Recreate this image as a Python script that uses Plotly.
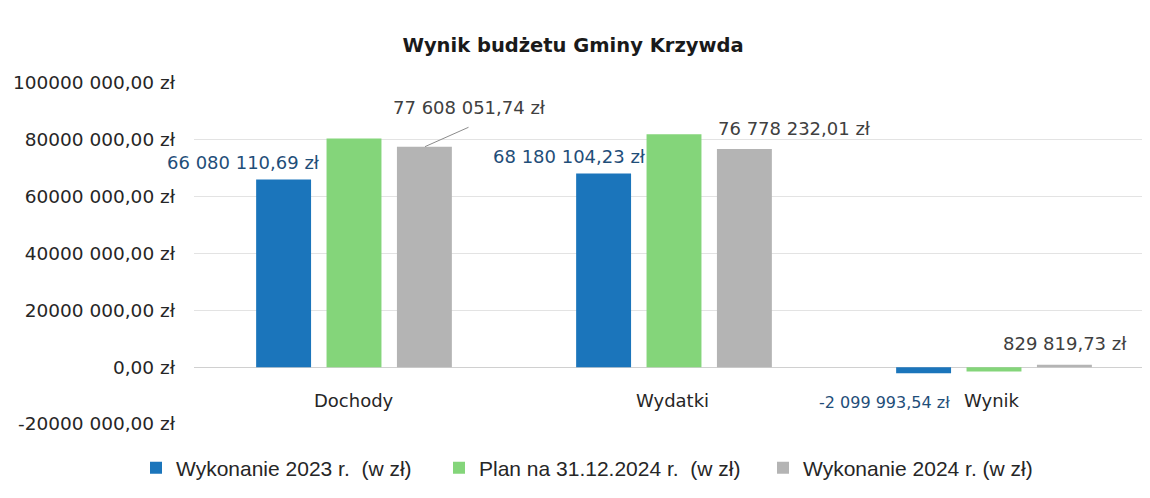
import plotly.graph_objects as go

categories = ["Dochody", "Wydatki", "Wynik"]
series_names = ["Wykonanie 2023 r.  (w zł)", "Plan na 31.12.2024 r.  (w zł)", "Wykonanie 2024 r. (w zł)"]
wyk_2023 = [66080110.69, 68180104.23, -2099993.54]
plan_2024 = [80500000.00, 82000000.00, -1500000.00]
wyk_2024 = [77608051.74, 76778232.01, 829819.73]
labels_2023 = ["66 080 110,69 zł", "68 180 104,23 zł", "-2 099 993,54 zł"]
labels_2024 = ["77 608 051,74 zł", "76 778 232,01 zł", "829 819,73 zł"]
tick_vals = [-20000000, 0, 20000000, 40000000, 60000000, 80000000, 100000000]
tick_text = ["-20000 000,00 zł", "0,00 zł", "20000 000,00 zł", "40000 000,00 zł",
             "60000 000,00 zł", "80000 000,00 zł", "100000 000,00 zł"]

colors = ["#1b75bb", "#84d57a", "#b4b4b4"]
font_main = "DejaVu Sans"
legend_ids = ["legend", "legend2", "legend3"]
legend_x = [128, 431, 755]

fig = go.Figure()
for name, vals, col, lg in zip(series_names, [wyk_2023, plan_2024, wyk_2024], colors, legend_ids):
    fig.add_trace(go.Bar(x=categories, y=vals, name=name, marker_color=col,
                         marker_line_width=0, hoverinfo="skip", legend=lg))

ann = []
# blue labels (Wykonanie 2023)
blue_style = [(-32, 17, 18), (-26, 17, 18), (-42, -29, 16)]
for c, v, t, (xs, ys, fs) in zip(categories, wyk_2023, labels_2023, blue_style):
    ann.append(dict(x=c, y=v, text=t, showarrow=False, xref="x", yref="y",
                    xanchor="right", yanchor="middle", xshift=xs, yshift=ys,
                    font=dict(family=font_main, size=fs, color="#1f4e79")))
# leader line for the first gray label
ann.append(dict(x=categories[0], y=wyk_2024[0], text=" ", xref="x", yref="y",
                showarrow=True, arrowhead=0, arrowwidth=1, arrowcolor="#8c8c8c",
                ax=45, ay=-20, xshift=71, standoff=0, font=dict(size=1)))
# gray labels (Wykonanie 2024)
gray_shift = [(115, 39), (120, 20), (71, 21)]
for c, v, t, (xs, ys) in zip(categories, wyk_2024, labels_2024, gray_shift):
    ann.append(dict(x=c, y=v, text=t, showarrow=False, xref="x", yref="y",
                    xanchor="center", yanchor="middle", xshift=xs, yshift=ys,
                    font=dict(family=font_main, size=18, color="#404040")))
# category labels at zero line
cat_shift = [0, -2, -2]
for c, xs in zip(categories, cat_shift):
    ann.append(dict(x=c, y=0, text=c, showarrow=False, xref="x", yref="y",
                    xanchor="center", yanchor="middle", yshift=-33, xshift=xs,
                    font=dict(family=font_main, size=18, color="#262626")))

legend_common = dict(orientation="h", xref="container", yref="container",
                     xanchor="left", y=1 - 460 / 498, yanchor="middle",
                     font=dict(family="Liberation Sans", size=21, color="#262626"),
                     itemclick=False, itemdoubleclick=False, bgcolor="rgba(0,0,0,0)")

fig.update_layout(
    width=1150, height=498,
    margin=dict(l=186, r=4, t=75, b=82, autoexpand=False),
    paper_bgcolor="white", plot_bgcolor="white",
    barmode="group", bargap=0.34, bargroupgap=0.22,
    title=dict(text="<b>Wynik budżetu Gminy Krzywda</b>", x=565 / 1150, xref="container",
               y=1 - 37 / 498, yref="container", xanchor="center", yanchor="middle",
               font=dict(family=font_main, size=19.5, color="#1a1a1a")),
    xaxis=dict(range=[-0.5, 2.5], showticklabels=False, showgrid=False,
               zeroline=False, showline=False, ticks="", automargin=False),
    yaxis=dict(range=[-20000000, 100000000], tickvals=tick_vals, ticktext=tick_text,
               showgrid=True, gridcolor="#e3e3e3", gridwidth=1,
               zeroline=True, zerolinecolor="#d0d0d0", zerolinewidth=1,
               showline=False, ticks="", ticklabelstandoff=18, automargin=False,
               tickfont=dict(family=font_main, size=18.5, color="#262626")),
    legend=dict(x=legend_x[0] / 1150, **legend_common),
    legend2=dict(x=legend_x[1] / 1150, **legend_common),
    legend3=dict(x=legend_x[2] / 1150, **legend_common),
    annotations=ann,
    showlegend=True,
)

fig.write_html("out.html")
